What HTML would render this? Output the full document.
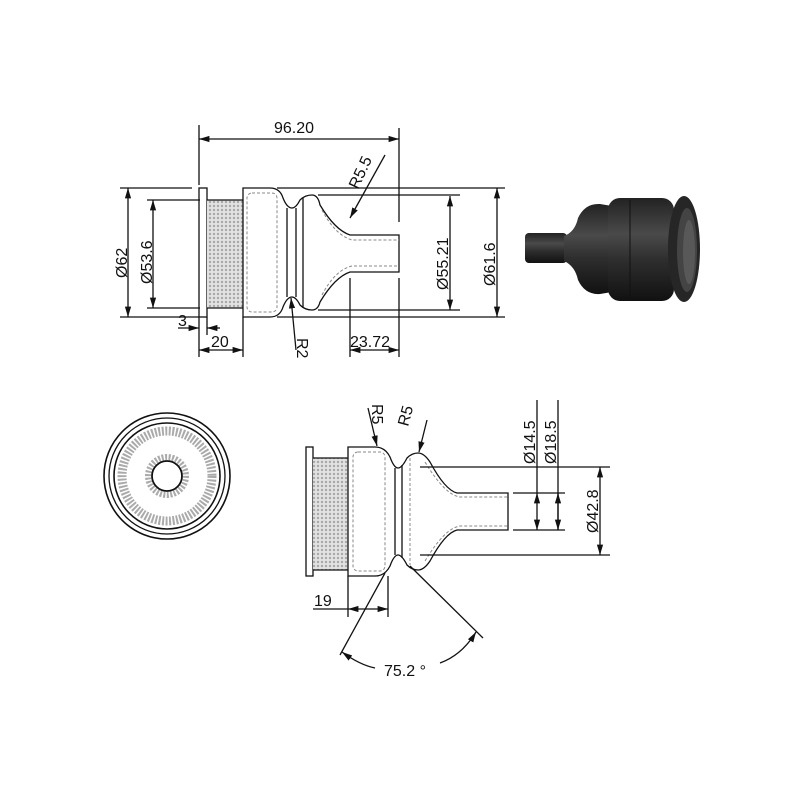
<!DOCTYPE html>
<html><head><meta charset="utf-8"><style>body{margin:0;background:#fff}svg{display:block}text{font-family:"Liberation Sans",sans-serif;font-size:16px;fill:#111}</style></head><body>
<svg width="800" height="800" viewBox="0 0 800 800" xmlns="http://www.w3.org/2000/svg">
<defs>
<marker id="a" viewBox="0 0 10 10" refX="10" refY="5" markerWidth="8" markerHeight="8" orient="auto-start-reverse"><path d="M0,2 L10,5 L0,8z" fill="#111"/></marker>
<pattern id="h" width="4" height="4" patternUnits="userSpaceOnUse"><rect width="4" height="4" fill="#e2e2e2"/><circle cx="2" cy="2" r="1.2" fill="#a8a8a8"/></pattern>
<linearGradient id="g" x1="0" y1="0" x2="0" y2="1"><stop offset="0" stop-color="#222"/><stop offset="0.35" stop-color="#4a4a4a"/><stop offset="0.6" stop-color="#2e2e2e"/><stop offset="1" stop-color="#111"/></linearGradient>
</defs>
<g stroke="#111" stroke-width="1.3" fill="none">
<line x1="199" y1="125" x2="199" y2="185"/><line x1="399" y1="128" x2="399" y2="222"/><line x1="399" y1="278" x2="399" y2="357"/>
<line x1="199" y1="139" x2="399" y2="139" marker-start="url(#a)" marker-end="url(#a)"/>
<rect x="199" y="188" width="8" height="129" fill="#fff"/>
<rect x="207" y="200" width="36" height="108" fill="url(#h)" stroke="none"/>
<line x1="207" y1="200" x2="243" y2="200"/><line x1="207" y1="308" x2="243" y2="308"/>
<path d="M243,188 H270 Q280,188 283,198 Q287,208 292,208 Q296,208 300,200 Q305,195 312,195 Q318,195 320,205 Q335,230 350,235 H399 V272 H350 Q335,277 320,302 Q318,310 312,310 Q305,310 300,305 Q296,297 292,297 Q287,297 283,307 Q280,317 270,317 H243 Z" fill="#fff"/>
<g stroke="#888" stroke-dasharray="3,2" stroke-width="1"><rect x="247" y="193" width="30" height="119" rx="5"/><path d="M303,205 V300 M322,210 Q335,235 352,240 H399 M322,295 Q335,270 352,266 H399"/></g>
<line x1="287" y1="208" x2="287" y2="297"/><line x1="296" y1="208" x2="296" y2="297"/><line x1="303" y1="198" x2="303" y2="307"/>
<line x1="120" y1="188" x2="192" y2="188"/><line x1="120" y1="317" x2="199" y2="317"/>
<line x1="147" y1="200" x2="200" y2="200"/><line x1="147" y1="308" x2="200" y2="308"/>
<line x1="128" y1="188" x2="128" y2="317" marker-start="url(#a)" marker-end="url(#a)"/>
<line x1="153" y1="200" x2="153" y2="308" marker-start="url(#a)" marker-end="url(#a)"/>
<line x1="277" y1="188" x2="505" y2="188"/><line x1="277" y1="317" x2="505" y2="317"/>
<line x1="318" y1="195" x2="460" y2="195"/><line x1="318" y1="310" x2="460" y2="310"/>
<line x1="497" y1="188" x2="497" y2="317" marker-start="url(#a)" marker-end="url(#a)"/>
<line x1="450" y1="196" x2="450" y2="310" marker-start="url(#a)" marker-end="url(#a)"/>
<line x1="243" y1="317" x2="243" y2="357"/><line x1="199" y1="317" x2="199" y2="357"/><line x1="207" y1="317" x2="207" y2="335"/>
<line x1="178" y1="328" x2="199" y2="328" marker-end="url(#a)"/><line x1="220" y1="328" x2="207" y2="328" marker-end="url(#a)"/>
<line x1="199" y1="350" x2="243" y2="350" marker-start="url(#a)" marker-end="url(#a)"/>
<line x1="350" y1="278" x2="350" y2="357"/>
<line x1="350" y1="350" x2="399" y2="350" marker-start="url(#a)" marker-end="url(#a)"/>
<line x1="296" y1="350" x2="291" y2="298" marker-end="url(#a)"/>
<line x1="385" y1="155" x2="350" y2="218" marker-end="url(#a)"/>
<circle cx="167" cy="476" r="63" stroke-width="1.6"/><circle cx="167" cy="476" r="58"/><circle cx="167" cy="476" r="53" stroke-width="1.6"/>
<circle cx="167" cy="476" r="45" stroke="#aaa" stroke-width="9" stroke-dasharray="2,1.5"/>
<circle cx="167" cy="476" r="19" stroke="#aaa" stroke-width="6" stroke-dasharray="2,1.5"/>
<circle cx="167" cy="476" r="15" stroke-width="1.8"/>
<rect x="306" y="447" width="7" height="129" fill="#fff"/>
<rect x="313" y="458" width="35" height="112" fill="url(#h)" stroke="none"/>
<line x1="313" y1="458" x2="348" y2="458"/><line x1="313" y1="570" x2="348" y2="570"/>
<path d="M348,447 H375 Q385,447 390,457 Q394,468 398,468 Q402,468 407,458 Q412,453 418,453 Q424,453 430,462 Q445,490 457,493 H508 V530 H457 Q445,533 430,561 Q424,570 418,570 Q412,570 407,565 Q402,555 398,555 Q394,555 390,566 Q385,576 375,576 H348 Z" fill="#fff"/>
<g stroke="#888" stroke-dasharray="3,2" stroke-width="1"><rect x="353" y="452" width="32" height="119" rx="5"/><path d="M410,458 V565 M425,462 Q445,495 460,497 H508 M425,561 Q445,528 460,526 H508"/></g>
<line x1="395" y1="468" x2="395" y2="555"/><line x1="402" y1="465" x2="402" y2="558"/>
<line x1="420" y1="467" x2="610" y2="467"/><line x1="420" y1="555" x2="610" y2="555"/>
<line x1="600" y1="467" x2="600" y2="555" marker-start="url(#a)" marker-end="url(#a)"/>
<line x1="513" y1="493" x2="565" y2="493"/><line x1="513" y1="530" x2="565" y2="530"/>
<line x1="537" y1="400" x2="537" y2="493"/><line x1="558" y1="400" x2="558" y2="530"/>
<line x1="537" y1="510" x2="537" y2="493" marker-end="url(#a)"/><line x1="537" y1="510" x2="537" y2="530" marker-end="url(#a)"/>
<line x1="558" y1="493" x2="558" y2="530" marker-start="url(#a)" marker-end="url(#a)"/>
<line x1="348" y1="576" x2="348" y2="617"/><line x1="388" y1="576" x2="388" y2="617"/>
<line x1="313" y1="609" x2="348" y2="609"/><line x1="348" y1="609" x2="388" y2="609" marker-start="url(#a)" marker-end="url(#a)"/>
<line x1="385" y1="573" x2="340" y2="655"/><line x1="410" y1="566" x2="483" y2="638"/>
<path d="M342,652 Q360,665 375,668" marker-start="url(#a)"/><path d="M440,663 Q462,655 476,632" marker-end="url(#a)"/>
<line x1="368" y1="408" x2="377" y2="446" marker-end="url(#a)"/><line x1="427" y1="420" x2="419" y2="452" marker-end="url(#a)"/>
</g>
<text x="274" y="133">96.20</text>
<text transform="translate(127,278) rotate(-90)">Ø62</text>
<text transform="translate(152,284) rotate(-90)">Ø53.6</text>
<text transform="translate(448,290) rotate(-90)">Ø55.21</text>
<text transform="translate(495,286) rotate(-90)">Ø61.6</text>
<text x="178" y="326">3</text><text x="211" y="347">20</text><text x="350" y="347">23.72</text>
<text transform="translate(297,338) rotate(90)">R2</text>
<text transform="translate(358,190) rotate(-65)">R5.5</text>
<text transform="translate(598,533) rotate(-90)">Ø42.8</text>
<text transform="translate(535,464) rotate(-90)">Ø14.5</text>
<text transform="translate(556,464) rotate(-90)">Ø18.5</text>
<text x="314" y="606">19</text>
<text x="384" y="676">75.2 °</text>
<text transform="translate(372,404) rotate(90)">R5</text>
<text transform="translate(408,427) rotate(-75)">R5</text>
<rect x="525" y="233" width="42" height="30" rx="4" fill="url(#g)"/>
<path d="M564,236 Q575,232 578,218 Q585,203 600,204 L612,206 V292 L600,294 Q585,295 578,280 Q575,266 564,261 Z" fill="url(#g)"/>
<rect x="608" y="198" width="66" height="103" rx="12" fill="url(#g)"/>
<line x1="630" y1="200" x2="630" y2="299" stroke="#111" stroke-width="1"/>
<ellipse cx="684" cy="249" rx="16" ry="53" fill="#262626"/>
<ellipse cx="687" cy="250" rx="10" ry="42" fill="#444"/>
<ellipse cx="689" cy="252" rx="6" ry="32" fill="#666" opacity=".6"/>
</svg>
</body></html>
